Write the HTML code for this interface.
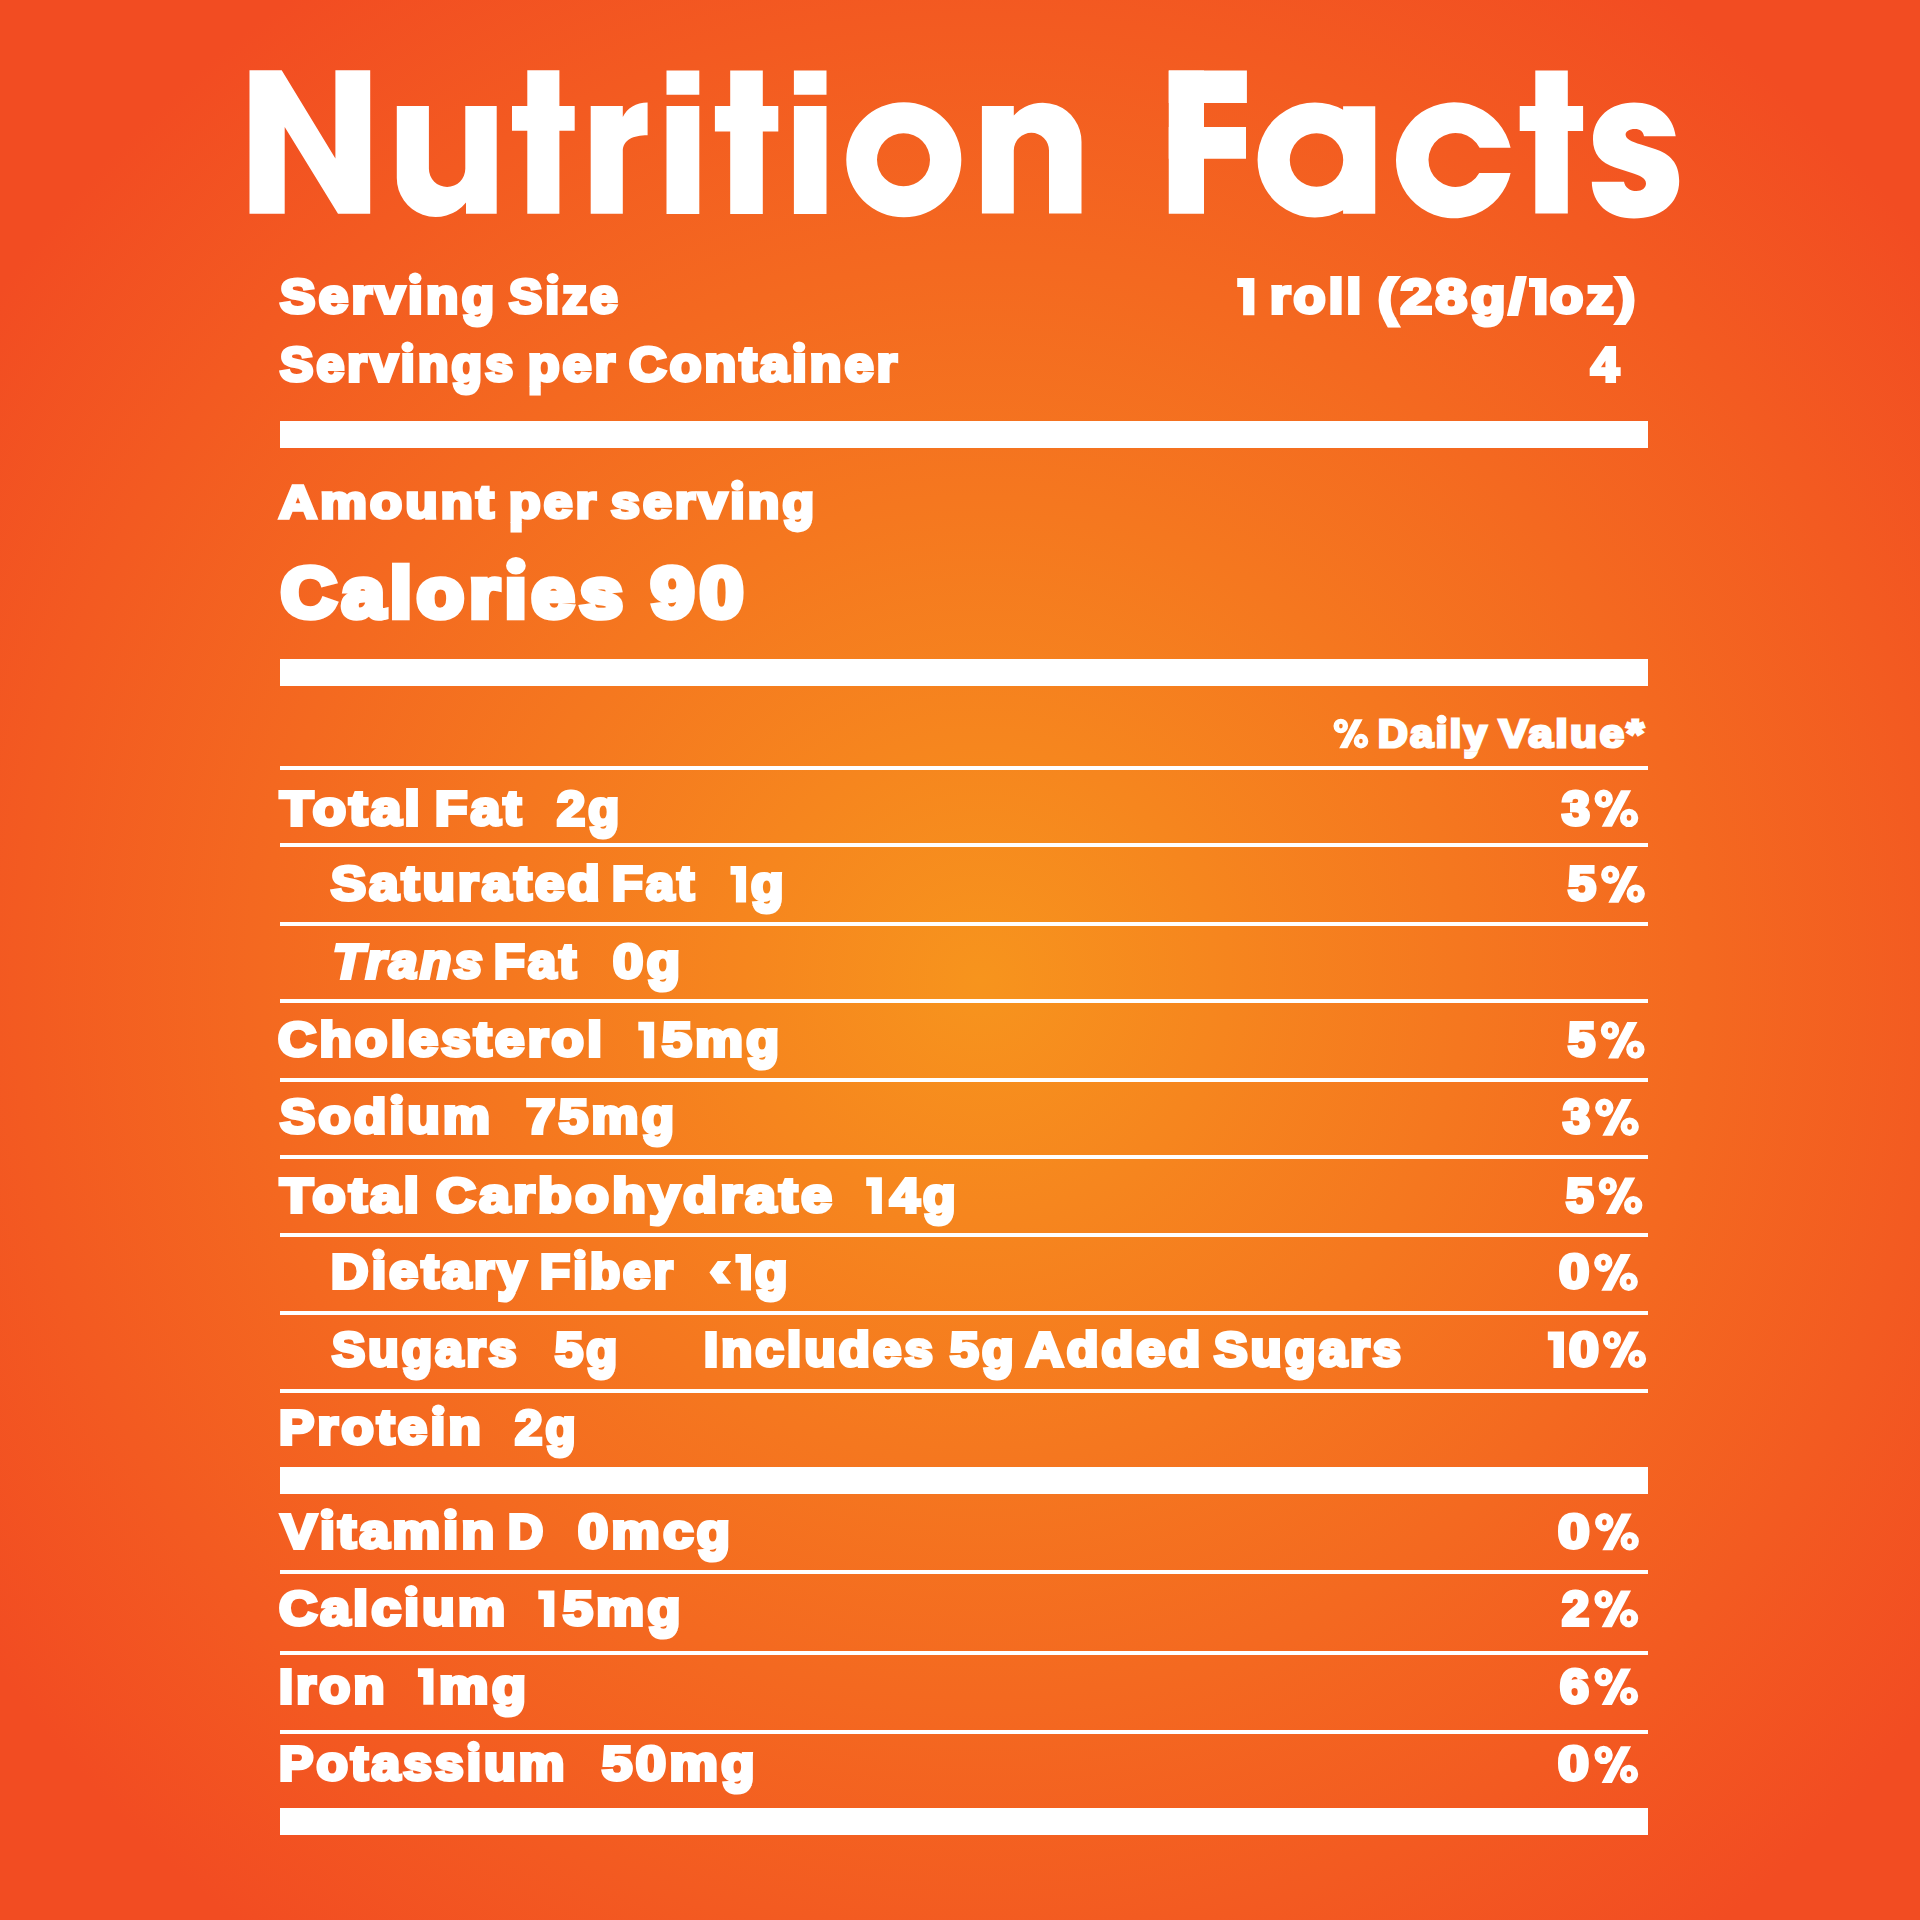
<!DOCTYPE html>
<html><head><meta charset="utf-8"><title>Nutrition Facts</title><style>
html,body{margin:0;padding:0;width:1920px;height:1920px;overflow:hidden}
body{position:relative;background:radial-gradient(circle at 980px 980px,#f7941d 0,#f24c22 1200px);}
.r{position:absolute;background:#fff}
.ttl{position:absolute;left:0;top:0;z-index:2}
.t,.i{position:absolute;white-space:pre;color:#fff;-webkit-text-stroke-color:#fff;font-family:"Liberation Sans",sans-serif;font-weight:700;line-height:1;transform-origin:0 0}
.i{font-style:italic}
.h{color:transparent;-webkit-text-stroke-color:transparent}</style></head><body>
<svg class="ttl" width="1920" height="1920" viewBox="0 0 1920 1920" fill="#fff" fill-rule="evenodd"><path d="M249.5,70.3H281.7L335.4,158.5V70.3H370.2V213.8H338L284.7,127V213.8H249.5Z"/><path d="M396.8,106H428.9V168.8A18.2,18.2 0 0 0 465.3,168.8V106H496.7V213.7H466V202.4A38.9,38.9 0 0 1 396.8,178Z"/><path d="M527.3,70.3H559.4V213.7H527.3Z"/><path d="M512,106H574.7V130.8H512Z"/><path d="M590.7,213.7V106H622.8V117C627,108 636,102.4 647.6,102.4V135.2C633,135.2 622.8,140 622.8,151V213.7Z"/><path d="M666.5,70.6H699.3V94.7H666.5Z"/><path d="M666.5,106H699.3V214H666.5Z"/><path d="M730.2,70.6H762.8V214H730.2Z"/><path d="M714.9,106.1H778.3V131.4H714.9Z"/><path d="M793.9,70.6H826.5V94.7H793.9Z"/><path d="M793.9,106H826.5V214H793.9Z"/><path d="M903.8,102.25A57.5,57.5 0 1 0 903.8,217.25A57.5,57.5 0 1 0 903.8,102.25ZM903.5,133.3A26.5,26.5 0 1 0 903.5,186.3A26.5,26.5 0 1 0 903.5,133.3Z"/><path d="M981.9,213.5V106H1013.8V115.5A38.9,38.9 0 0 1 1081.5,141.7V213.5H1049V150.4A17.6,17.6 0 0 0 1013.8,150.4V213.5Z"/><path d="M1168.75,70.6H1204V213.75H1168.75Z"/><path d="M1168.75,70.6H1246.9V103.1H1168.75Z"/><path d="M1168.75,126.9H1246V158.75H1168.75Z"/><path d="M1343.1,109.8A57.5,57.5 0 1 0 1343.1,210.2V213.75H1375.25V106.25H1343.1ZM1316.5,133.3A26.7,26.7 0 1 0 1316.5,186.7A26.7,26.7 0 1 0 1316.5,133.3Z"/><path d="M1510.6,147.8A58,58 0 1 0 1510.6,172.9L1479.2,172.9A27,27 0 1 1 1479.6,147.8Z"/><path d="M1535.3,70.5H1567.8V213.4H1535.3Z"/><path d="M1519.7,106H1583.1V131H1519.7Z"/><path d="M1634,102.4C1656,102.4 1673,115 1675.7,136.3L1644,136.3C1643,131 1640,129 1635,129C1629,129 1625.6,131.5 1625.6,134.5C1625.6,139 1631,141.5 1641,144.5L1655,149C1670,154 1679.2,163 1679.2,181C1679.2,204 1660,218.5 1634,218.5C1608,218.5 1592,203 1591.8,181.7L1624,181.7C1625,187.5 1630,191 1636.5,191C1642,191 1646,188 1646,183.5C1646,178 1640,175.5 1632,173L1615,167.5C1601,163 1593,154 1593,139.5C1593,117 1611,102.4 1634,102.4Z"/><path transform="translate(1333.40,718.67) scale(0.7955)" d="M9.3,0.0A9.2,9.2 0 1 0 9.3,18.4A9.2,9.2 0 1 0 9.3,0.0ZM9.4,6.300000000000001A2.3,3.0 0 1 0 9.4,12.3A2.3,3.0 0 1 0 9.4,6.300000000000001ZM26.5,0.6H36.8L17.6,37.2H7.3ZM34.7,19.1A9.2,9.2 0 1 0 34.7,37.5A9.2,9.2 0 1 0 34.7,19.1ZM34.6,25.2A2.3,3.0 0 1 0 34.6,31.2A2.3,3.0 0 1 0 34.6,25.2Z"/><path transform="translate(1594.40,789.60) scale(1.0000)" d="M9.3,0.0A9.2,9.2 0 1 0 9.3,18.4A9.2,9.2 0 1 0 9.3,0.0ZM9.4,6.300000000000001A2.3,3.0 0 1 0 9.4,12.3A2.3,3.0 0 1 0 9.4,6.300000000000001ZM26.5,0.6H36.8L17.6,37.2H7.3ZM34.7,19.1A9.2,9.2 0 1 0 34.7,37.5A9.2,9.2 0 1 0 34.7,19.1ZM34.6,25.2A2.3,3.0 0 1 0 34.6,31.2A2.3,3.0 0 1 0 34.6,25.2Z"/><path transform="translate(1601.00,865.50) scale(1.0000)" d="M9.3,0.0A9.2,9.2 0 1 0 9.3,18.4A9.2,9.2 0 1 0 9.3,0.0ZM9.4,6.300000000000001A2.3,3.0 0 1 0 9.4,12.3A2.3,3.0 0 1 0 9.4,6.300000000000001ZM26.5,0.6H36.8L17.6,37.2H7.3ZM34.7,19.1A9.2,9.2 0 1 0 34.7,37.5A9.2,9.2 0 1 0 34.7,19.1ZM34.6,25.2A2.3,3.0 0 1 0 34.6,31.2A2.3,3.0 0 1 0 34.6,25.2Z"/><path transform="translate(1600.70,1021.30) scale(1.0000)" d="M9.3,0.0A9.2,9.2 0 1 0 9.3,18.4A9.2,9.2 0 1 0 9.3,0.0ZM9.4,6.300000000000001A2.3,3.0 0 1 0 9.4,12.3A2.3,3.0 0 1 0 9.4,6.300000000000001ZM26.5,0.6H36.8L17.6,37.2H7.3ZM34.7,19.1A9.2,9.2 0 1 0 34.7,37.5A9.2,9.2 0 1 0 34.7,19.1ZM34.6,25.2A2.3,3.0 0 1 0 34.6,31.2A2.3,3.0 0 1 0 34.6,25.2Z"/><path transform="translate(1595.00,1098.50) scale(1.0000)" d="M9.3,0.0A9.2,9.2 0 1 0 9.3,18.4A9.2,9.2 0 1 0 9.3,0.0ZM9.4,6.300000000000001A2.3,3.0 0 1 0 9.4,12.3A2.3,3.0 0 1 0 9.4,6.300000000000001ZM26.5,0.6H36.8L17.6,37.2H7.3ZM34.7,19.1A9.2,9.2 0 1 0 34.7,37.5A9.2,9.2 0 1 0 34.7,19.1ZM34.6,25.2A2.3,3.0 0 1 0 34.6,31.2A2.3,3.0 0 1 0 34.6,25.2Z"/><path transform="translate(1598.50,1176.90) scale(1.0000)" d="M9.3,0.0A9.2,9.2 0 1 0 9.3,18.4A9.2,9.2 0 1 0 9.3,0.0ZM9.4,6.300000000000001A2.3,3.0 0 1 0 9.4,12.3A2.3,3.0 0 1 0 9.4,6.300000000000001ZM26.5,0.6H36.8L17.6,37.2H7.3ZM34.7,19.1A9.2,9.2 0 1 0 34.7,37.5A9.2,9.2 0 1 0 34.7,19.1ZM34.6,25.2A2.3,3.0 0 1 0 34.6,31.2A2.3,3.0 0 1 0 34.6,25.2Z"/><path transform="translate(1594.00,1253.50) scale(1.0000)" d="M9.3,0.0A9.2,9.2 0 1 0 9.3,18.4A9.2,9.2 0 1 0 9.3,0.0ZM9.4,6.300000000000001A2.3,3.0 0 1 0 9.4,12.3A2.3,3.0 0 1 0 9.4,6.300000000000001ZM26.5,0.6H36.8L17.6,37.2H7.3ZM34.7,19.1A9.2,9.2 0 1 0 34.7,37.5A9.2,9.2 0 1 0 34.7,19.1ZM34.6,25.2A2.3,3.0 0 1 0 34.6,31.2A2.3,3.0 0 1 0 34.6,25.2Z"/><path transform="translate(1602.80,1331.00) scale(0.9875)" d="M9.3,0.0A9.2,9.2 0 1 0 9.3,18.4A9.2,9.2 0 1 0 9.3,0.0ZM9.4,6.300000000000001A2.3,3.0 0 1 0 9.4,12.3A2.3,3.0 0 1 0 9.4,6.300000000000001ZM26.5,0.6H36.8L17.6,37.2H7.3ZM34.7,19.1A9.2,9.2 0 1 0 34.7,37.5A9.2,9.2 0 1 0 34.7,19.1ZM34.6,25.2A2.3,3.0 0 1 0 34.6,31.2A2.3,3.0 0 1 0 34.6,25.2Z"/><path transform="translate(1595.00,1513.00) scale(1.0000)" d="M9.3,0.0A9.2,9.2 0 1 0 9.3,18.4A9.2,9.2 0 1 0 9.3,0.0ZM9.4,6.300000000000001A2.3,3.0 0 1 0 9.4,12.3A2.3,3.0 0 1 0 9.4,6.300000000000001ZM26.5,0.6H36.8L17.6,37.2H7.3ZM34.7,19.1A9.2,9.2 0 1 0 34.7,37.5A9.2,9.2 0 1 0 34.7,19.1ZM34.6,25.2A2.3,3.0 0 1 0 34.6,31.2A2.3,3.0 0 1 0 34.6,25.2Z"/><path transform="translate(1594.30,1590.00) scale(1.0000)" d="M9.3,0.0A9.2,9.2 0 1 0 9.3,18.4A9.2,9.2 0 1 0 9.3,0.0ZM9.4,6.300000000000001A2.3,3.0 0 1 0 9.4,12.3A2.3,3.0 0 1 0 9.4,6.300000000000001ZM26.5,0.6H36.8L17.6,37.2H7.3ZM34.7,19.1A9.2,9.2 0 1 0 34.7,37.5A9.2,9.2 0 1 0 34.7,19.1ZM34.6,25.2A2.3,3.0 0 1 0 34.6,31.2A2.3,3.0 0 1 0 34.6,25.2Z"/><path transform="translate(1594.30,1667.80) scale(1.0000)" d="M9.3,0.0A9.2,9.2 0 1 0 9.3,18.4A9.2,9.2 0 1 0 9.3,0.0ZM9.4,6.300000000000001A2.3,3.0 0 1 0 9.4,12.3A2.3,3.0 0 1 0 9.4,6.300000000000001ZM26.5,0.6H36.8L17.6,37.2H7.3ZM34.7,19.1A9.2,9.2 0 1 0 34.7,37.5A9.2,9.2 0 1 0 34.7,19.1ZM34.6,25.2A2.3,3.0 0 1 0 34.6,31.2A2.3,3.0 0 1 0 34.6,25.2Z"/><path transform="translate(1594.30,1745.70) scale(1.0000)" d="M9.3,0.0A9.2,9.2 0 1 0 9.3,18.4A9.2,9.2 0 1 0 9.3,0.0ZM9.4,6.300000000000001A2.3,3.0 0 1 0 9.4,12.3A2.3,3.0 0 1 0 9.4,6.300000000000001ZM26.5,0.6H36.8L17.6,37.2H7.3ZM34.7,19.1A9.2,9.2 0 1 0 34.7,37.5A9.2,9.2 0 1 0 34.7,19.1ZM34.6,25.2A2.3,3.0 0 1 0 34.6,31.2A2.3,3.0 0 1 0 34.6,25.2Z"/><ellipse cx="415.12" cy="278.30" rx="6.38" ry="5.69"/><ellipse cx="552.60" cy="278.30" rx="5.98" ry="5.34"/><ellipse cx="407.50" cy="347.00" rx="6.06" ry="5.41"/><ellipse cx="799.01" cy="347.00" rx="6.29" ry="5.61"/><ellipse cx="737.27" cy="485.10" rx="6.25" ry="5.58"/><ellipse cx="515.92" cy="565.80" rx="9.86" ry="8.80"/><ellipse cx="1441.60" cy="719.30" rx="4.98" ry="4.44"/><ellipse cx="396.75" cy="1099.20" rx="6.40" ry="5.71"/><ellipse cx="378.42" cy="1254.20" rx="6.28" ry="5.61"/><ellipse cx="579.88" cy="1254.20" rx="5.96" ry="5.33"/><ellipse cx="438.29" cy="1410.20" rx="6.40" ry="5.71"/><ellipse cx="327.01" cy="1513.70" rx="6.48" ry="5.78"/><ellipse cx="450.38" cy="1513.70" rx="6.48" ry="5.78"/><ellipse cx="411.20" cy="1590.70" rx="6.42" ry="5.73"/><ellipse cx="473.54" cy="1746.40" rx="6.22" ry="5.56"/><path d="M1237.20,278.00H1254.40V315.30H1243.13V286.95H1237.20Z"/><path d="M1529.00,278.00H1546.50V315.30H1535.04V286.95H1529.00Z"/><path d="M730.50,865.90H746.10V902.50H735.88V874.68H730.50Z"/><path d="M638.30,1021.70H654.20V1058.30H643.79V1030.48H638.30Z"/><path d="M866.20,1177.30H881.90V1213.90H871.62V1186.08H866.20Z"/><path d="M717.70,1261.10L731.25,1261.10L722.40,1272.45L731.25,1283.80L717.70,1283.80L709.40,1272.45Z"/><path d="M735.40,1253.90H751.00V1290.50H740.78V1262.68H735.40Z"/><path d="M1547.80,1331.40H1564.00V1368.00H1553.39V1340.18H1547.80Z"/><path d="M538.30,1590.40H554.40V1627.00H543.85V1599.18H538.30Z"/><path d="M417.90,1668.20H433.50V1704.80H423.28V1676.98H417.90Z"/></svg>
<div class="r" style="left:280px;top:420.5px;width:1367.50px;height:27.50px"></div>
<div class="r" style="left:280px;top:659px;width:1367.50px;height:27.00px"></div>
<div class="r" style="left:280px;top:766.1px;width:1367.50px;height:4.40px"></div>
<div class="r" style="left:280px;top:842.8px;width:1367.50px;height:4.30px"></div>
<div class="r" style="left:280px;top:921.5px;width:1367.50px;height:4.30px"></div>
<div class="r" style="left:280px;top:998.9px;width:1367.50px;height:4.40px"></div>
<div class="r" style="left:280px;top:1077.5px;width:1367.50px;height:4.30px"></div>
<div class="r" style="left:280px;top:1155px;width:1367.50px;height:4.20px"></div>
<div class="r" style="left:280px;top:1233px;width:1367.50px;height:4.20px"></div>
<div class="r" style="left:280px;top:1311px;width:1367.50px;height:4.20px"></div>
<div class="r" style="left:280px;top:1388.7px;width:1367.50px;height:4.30px"></div>
<div class="r" style="left:280px;top:1467.2px;width:1367.50px;height:27.30px"></div>
<div class="r" style="left:280px;top:1570px;width:1367.50px;height:4.30px"></div>
<div class="r" style="left:280px;top:1651px;width:1367.50px;height:4.20px"></div>
<div class="r" style="left:280px;top:1729.5px;width:1367.50px;height:4.40px"></div>
<div class="r" style="left:280px;top:1808px;width:1367.50px;height:27.00px"></div>
<div id="w0" class="t" style="left:279.68px;top:272.46px;font-size:48.69px;-webkit-text-stroke-width:3.80px;letter-spacing:3.04px;transform:scaleX(1.0877);clip-path:polygon(-60px -200px,3000px -200px,3000px 46.24px,-60px 46.24px)">Servıng</div>
<div class="t" style="left:279.68px;top:272.46px;font-size:48.69px;-webkit-text-stroke-width:3.80px;letter-spacing:3.04px;transform-origin:0 42.84px;transform:scaleX(1.0877) scaleY(1.350);clip-path:polygon(-60px 44.84px,3000px 44.84px,3000px 400px,-60px 400px)">Servıng</div>
<div id="w1" class="t" style="left:509.46px;top:272.46px;font-size:48.69px;-webkit-text-stroke-width:3.80px;letter-spacing:3.04px;transform:scaleX(1.0201)">Sıze</div>
<div id="w2" class="t" style="left:1270.44px;top:272.46px;font-size:48.69px;-webkit-text-stroke-width:3.80px;letter-spacing:3.04px;transform:scaleX(1.0738)">roll</div>
<div id="w3" class="t" style="left:1377.82px;top:272.46px;font-size:48.69px;-webkit-text-stroke-width:3.80px;letter-spacing:3.04px;transform:scaleX(1.1659);clip-path:polygon(-60px -200px,3000px -200px,3000px 46.24px,-60px 46.24px)">(28g/</div>
<div class="t" style="left:1377.82px;top:272.46px;font-size:48.69px;-webkit-text-stroke-width:3.80px;letter-spacing:3.04px;transform-origin:0 42.84px;transform:scaleX(1.1659) scaleY(1.350);clip-path:polygon(-60px 44.84px,3000px 44.84px,3000px 400px,-60px 400px)">(28g/</div>
<div id="w4" class="t" style="left:1550.38px;top:272.46px;font-size:48.69px;-webkit-text-stroke-width:3.80px;letter-spacing:3.04px;transform:scaleX(1.1145)">oz)</div>
<div id="w5" class="t" style="left:279.68px;top:340.94px;font-size:47.53px;-webkit-text-stroke-width:3.80px;letter-spacing:3.04px;transform:scaleX(1.0493);clip-path:polygon(-60px -200px,3000px -200px,3000px 45.66px,-60px 45.66px)">Servıngs</div>
<div class="t" style="left:279.68px;top:340.94px;font-size:47.53px;-webkit-text-stroke-width:3.80px;letter-spacing:3.04px;transform-origin:0 42.26px;transform:scaleX(1.0493) scaleY(1.350);clip-path:polygon(-60px 44.26px,3000px 44.26px,3000px 400px,-60px 400px)">Servıngs</div>
<div id="w6" class="t" style="left:527.89px;top:340.94px;font-size:47.53px;-webkit-text-stroke-width:3.80px;letter-spacing:3.04px;transform:scaleX(1.0831);clip-path:polygon(-60px -200px,3000px -200px,3000px 45.66px,-60px 45.66px)">per</div>
<div class="t" style="left:527.89px;top:340.94px;font-size:47.53px;-webkit-text-stroke-width:3.80px;letter-spacing:3.04px;transform-origin:0 42.26px;transform:scaleX(1.0831) scaleY(1.350);clip-path:polygon(-60px 44.26px,3000px 44.26px,3000px 400px,-60px 400px)">per</div>
<div id="w7" class="t" style="left:628.66px;top:340.94px;font-size:47.53px;-webkit-text-stroke-width:3.80px;letter-spacing:3.04px;transform:scaleX(1.0890)">Contaıner</div>
<div id="w8" class="t" style="left:1590.51px;top:340.94px;font-size:47.53px;-webkit-text-stroke-width:3.80px;letter-spacing:3.04px;transform:scaleX(1.0560)">4</div>
<div id="w9" class="t" style="left:279.31px;top:480.10px;font-size:45.49px;-webkit-text-stroke-width:3.60px;letter-spacing:2.88px;transform:scaleX(1.1526)">Amount</div>
<div id="w10" class="t" style="left:509.48px;top:480.10px;font-size:45.49px;-webkit-text-stroke-width:3.60px;letter-spacing:2.88px;transform:scaleX(1.1334);clip-path:polygon(-60px -200px,3000px -200px,3000px 43.00px,-60px 43.00px)">per</div>
<div class="t" style="left:509.48px;top:480.10px;font-size:45.49px;-webkit-text-stroke-width:3.60px;letter-spacing:2.88px;transform-origin:0 39.60px;transform:scaleX(1.1334) scaleY(1.350);clip-path:polygon(-60px 41.60px,3000px 41.60px,3000px 400px,-60px 400px)">per</div>
<div id="w11" class="t" style="left:610.85px;top:480.10px;font-size:45.49px;-webkit-text-stroke-width:3.60px;letter-spacing:2.88px;transform:scaleX(1.1343);clip-path:polygon(-60px -200px,3000px -200px,3000px 43.00px,-60px 43.00px)">servıng</div>
<div class="t" style="left:610.85px;top:480.10px;font-size:45.49px;-webkit-text-stroke-width:3.60px;letter-spacing:2.88px;transform-origin:0 39.60px;transform:scaleX(1.1343) scaleY(1.350);clip-path:polygon(-60px 41.60px,3000px 41.60px,3000px 400px,-60px 400px)">servıng</div>
<div id="w12" class="t" style="left:281.35px;top:558.54px;font-size:69.77px;-webkit-text-stroke-width:6.50px;letter-spacing:5.20px;transform:scaleX(1.0961)">Calorıes</div>
<div id="w13" class="t" style="left:650.64px;top:558.54px;font-size:69.77px;-webkit-text-stroke-width:6.50px;letter-spacing:5.20px;transform:scaleX(1.1114)">90</div>
<div id="w14" class="t" style="left:1378.11px;top:715.58px;font-size:37.94px;-webkit-text-stroke-width:3.00px;letter-spacing:2.40px;transform:scaleX(1.0843);clip-path:polygon(-60px -200px,3000px -200px,3000px 35.92px,-60px 35.92px)">Daıly</div>
<div class="t" style="left:1378.11px;top:715.58px;font-size:37.94px;-webkit-text-stroke-width:3.00px;letter-spacing:2.40px;transform-origin:0 32.52px;transform:scaleX(1.0843) scaleY(1.350);clip-path:polygon(-60px 34.52px,3000px 34.52px,3000px 400px,-60px 400px)">Daıly</div>
<div id="w15" class="t" style="left:1498.92px;top:715.58px;font-size:37.94px;-webkit-text-stroke-width:3.00px;letter-spacing:2.40px;transform:scaleX(1.1492)">Value*</div>
<div id="w16" class="t" style="left:280.23px;top:784.82px;font-size:47.67px;-webkit-text-stroke-width:3.80px;letter-spacing:3.04px;transform:scaleX(1.1407)">Total</div>
<div id="w17" class="t" style="left:435.20px;top:784.82px;font-size:47.67px;-webkit-text-stroke-width:3.80px;letter-spacing:3.04px;transform:scaleX(1.1107)">Fat</div>
<div id="w18" class="t" style="left:556.56px;top:784.82px;font-size:47.67px;-webkit-text-stroke-width:3.80px;letter-spacing:3.04px;transform:scaleX(1.0590);clip-path:polygon(-60px -200px,3000px -200px,3000px 45.18px,-60px 45.18px)">2g</div>
<div class="t" style="left:556.56px;top:784.82px;font-size:47.67px;-webkit-text-stroke-width:3.80px;letter-spacing:3.04px;transform-origin:0 41.78px;transform:scaleX(1.0590) scaleY(1.350);clip-path:polygon(-60px 43.78px,3000px 43.78px,3000px 400px,-60px 400px)">2g</div>
<div id="w19" class="t" style="left:1561.84px;top:784.82px;font-size:47.67px;-webkit-text-stroke-width:3.80px;letter-spacing:3.04px;transform:scaleX(1.0498)">3</div>
<div id="w20" class="t" style="left:330.83px;top:860.32px;font-size:47.67px;-webkit-text-stroke-width:3.80px;letter-spacing:3.04px;transform:scaleX(1.1005)">Saturated</div>
<div id="w21" class="t" style="left:612.29px;top:860.32px;font-size:47.67px;-webkit-text-stroke-width:3.80px;letter-spacing:3.04px;transform:scaleX(1.0562)">Fat</div>
<div id="w22" class="t" style="left:750.68px;top:860.32px;font-size:47.67px;-webkit-text-stroke-width:3.80px;letter-spacing:3.04px;transform:scaleX(1.1139);clip-path:polygon(-60px -200px,3000px -200px,3000px 45.58px,-60px 45.58px)">g</div>
<div class="t" style="left:750.68px;top:860.32px;font-size:47.67px;-webkit-text-stroke-width:3.80px;letter-spacing:3.04px;transform-origin:0 42.18px;transform:scaleX(1.1139) scaleY(1.350);clip-path:polygon(-60px 44.18px,3000px 44.18px,3000px 400px,-60px 400px)">g</div>
<div id="w23" class="t" style="left:1568.09px;top:860.32px;font-size:47.67px;-webkit-text-stroke-width:3.80px;letter-spacing:3.04px;transform:scaleX(1.0528)">5</div>
<div id="w24" class="i" style="left:332.79px;top:937.82px;font-size:47.67px;-webkit-text-stroke-width:3.80px;letter-spacing:3.04px;transform:scaleX(1.0582)">Trans</div>
<div id="w25" class="t" style="left:494.29px;top:937.82px;font-size:47.67px;-webkit-text-stroke-width:3.80px;letter-spacing:3.04px;transform:scaleX(1.0562)">Fat</div>
<div id="w26" class="t" style="left:612.99px;top:937.82px;font-size:47.67px;-webkit-text-stroke-width:3.80px;letter-spacing:3.04px;transform:scaleX(1.1389);clip-path:polygon(-60px -200px,3000px -200px,3000px 45.58px,-60px 45.58px)">0g</div>
<div class="t" style="left:612.99px;top:937.82px;font-size:47.67px;-webkit-text-stroke-width:3.80px;letter-spacing:3.04px;transform-origin:0 42.18px;transform:scaleX(1.1389) scaleY(1.350);clip-path:polygon(-60px 44.18px,3000px 44.18px,3000px 400px,-60px 400px)">0g</div>
<div id="w27" class="t" style="left:278.38px;top:1016.32px;font-size:47.67px;-webkit-text-stroke-width:3.80px;letter-spacing:3.04px;transform:scaleX(1.1070)">Cholesterol</div>
<div id="w28" class="t" style="left:662.30px;top:1016.32px;font-size:47.67px;-webkit-text-stroke-width:3.80px;letter-spacing:3.04px;transform:scaleX(1.1226);clip-path:polygon(-60px -200px,3000px -200px,3000px 45.38px,-60px 45.38px)">5mg</div>
<div class="t" style="left:662.30px;top:1016.32px;font-size:47.67px;-webkit-text-stroke-width:3.80px;letter-spacing:3.04px;transform-origin:0 41.98px;transform:scaleX(1.1226) scaleY(1.350);clip-path:polygon(-60px 43.98px,3000px 43.98px,3000px 400px,-60px 400px)">5mg</div>
<div id="w29" class="t" style="left:1568.48px;top:1016.32px;font-size:47.67px;-webkit-text-stroke-width:3.80px;letter-spacing:3.04px;transform:scaleX(1.0253)">5</div>
<div id="w30" class="t" style="left:279.83px;top:1093.32px;font-size:47.67px;-webkit-text-stroke-width:3.80px;letter-spacing:3.04px;transform:scaleX(1.1054)">Sodıum</div>
<div id="w31" class="t" style="left:526.29px;top:1093.32px;font-size:47.67px;-webkit-text-stroke-width:3.80px;letter-spacing:3.04px;transform:scaleX(1.1065);clip-path:polygon(-60px -200px,3000px -200px,3000px 45.58px,-60px 45.58px)">75mg</div>
<div class="t" style="left:526.29px;top:1093.32px;font-size:47.67px;-webkit-text-stroke-width:3.80px;letter-spacing:3.04px;transform-origin:0 42.18px;transform:scaleX(1.1065) scaleY(1.350);clip-path:polygon(-60px 44.18px,3000px 44.18px,3000px 400px,-60px 400px)">75mg</div>
<div id="w32" class="t" style="left:1562.68px;top:1093.32px;font-size:47.67px;-webkit-text-stroke-width:3.80px;letter-spacing:3.04px;transform:scaleX(1.0211)">3</div>
<div id="w33" class="t" style="left:279.93px;top:1172.32px;font-size:47.67px;-webkit-text-stroke-width:3.80px;letter-spacing:3.04px;transform:scaleX(1.1340)">Total</div>
<div id="w34" class="t" style="left:435.62px;top:1172.32px;font-size:47.67px;-webkit-text-stroke-width:3.80px;letter-spacing:3.04px;transform:scaleX(1.1528);clip-path:polygon(-60px -200px,3000px -200px,3000px 44.98px,-60px 44.98px)">Carbohydrate</div>
<div class="t" style="left:435.62px;top:1172.32px;font-size:47.67px;-webkit-text-stroke-width:3.80px;letter-spacing:3.04px;transform-origin:0 41.58px;transform:scaleX(1.1528) scaleY(1.350);clip-path:polygon(-60px 43.58px,3000px 43.58px,3000px 400px,-60px 400px)">Carbohydrate</div>
<div id="w35" class="t" style="left:889.95px;top:1172.32px;font-size:47.67px;-webkit-text-stroke-width:3.80px;letter-spacing:3.04px;transform:scaleX(1.1169);clip-path:polygon(-60px -200px,3000px -200px,3000px 44.98px,-60px 44.98px)">4g</div>
<div class="t" style="left:889.95px;top:1172.32px;font-size:47.67px;-webkit-text-stroke-width:3.80px;letter-spacing:3.04px;transform-origin:0 41.58px;transform:scaleX(1.1169) scaleY(1.350);clip-path:polygon(-60px 43.58px,3000px 43.58px,3000px 400px,-60px 400px)">4g</div>
<div id="w36" class="t" style="left:1566.03px;top:1172.32px;font-size:47.67px;-webkit-text-stroke-width:3.80px;letter-spacing:3.04px;transform:scaleX(1.0383)">5</div>
<div id="w37" class="t" style="left:330.57px;top:1248.32px;font-size:47.67px;-webkit-text-stroke-width:3.80px;letter-spacing:3.04px;transform:scaleX(1.0852);clip-path:polygon(-60px -200px,3000px -200px,3000px 45.58px,-60px 45.58px)">Dıetary</div>
<div class="t" style="left:330.57px;top:1248.32px;font-size:47.67px;-webkit-text-stroke-width:3.80px;letter-spacing:3.04px;transform-origin:0 42.18px;transform:scaleX(1.0852) scaleY(1.350);clip-path:polygon(-60px 44.18px,3000px 44.18px,3000px 400px,-60px 400px)">Dıetary</div>
<div id="w38" class="t" style="left:539.90px;top:1248.32px;font-size:47.67px;-webkit-text-stroke-width:3.80px;letter-spacing:3.04px;transform:scaleX(1.0309)">Fıber</div>
<div id="w39" class="t" style="left:755.18px;top:1248.32px;font-size:47.67px;-webkit-text-stroke-width:3.80px;letter-spacing:3.04px;transform:scaleX(1.1139);clip-path:polygon(-60px -200px,3000px -200px,3000px 45.58px,-60px 45.58px)">g</div>
<div class="t" style="left:755.18px;top:1248.32px;font-size:47.67px;-webkit-text-stroke-width:3.80px;letter-spacing:3.04px;transform-origin:0 42.18px;transform:scaleX(1.1139) scaleY(1.350);clip-path:polygon(-60px 44.18px,3000px 44.18px,3000px 400px,-60px 400px)">g</div>
<div id="w40" class="t" style="left:1558.99px;top:1248.32px;font-size:47.67px;-webkit-text-stroke-width:3.80px;letter-spacing:3.04px;transform:scaleX(1.1411)">0</div>
<div id="w41" class="t" style="left:331.66px;top:1325.82px;font-size:47.67px;-webkit-text-stroke-width:3.80px;letter-spacing:3.04px;transform:scaleX(1.0427);clip-path:polygon(-60px -200px,3000px -200px,3000px 45.58px,-60px 45.58px)">Sugars</div>
<div class="t" style="left:331.66px;top:1325.82px;font-size:47.67px;-webkit-text-stroke-width:3.80px;letter-spacing:3.04px;transform-origin:0 42.18px;transform:scaleX(1.0427) scaleY(1.350);clip-path:polygon(-60px 44.18px,3000px 44.18px,3000px 400px,-60px 400px)">Sugars</div>
<div id="w42" class="t" style="left:555.12px;top:1325.82px;font-size:47.67px;-webkit-text-stroke-width:3.80px;letter-spacing:3.04px;transform:scaleX(1.0601);clip-path:polygon(-60px -200px,3000px -200px,3000px 45.58px,-60px 45.58px)">5g</div>
<div class="t" style="left:555.12px;top:1325.82px;font-size:47.67px;-webkit-text-stroke-width:3.80px;letter-spacing:3.04px;transform-origin:0 42.18px;transform:scaleX(1.0601) scaleY(1.350);clip-path:polygon(-60px 44.18px,3000px 44.18px,3000px 400px,-60px 400px)">5g</div>
<div id="w43" class="t" style="left:703.69px;top:1325.82px;font-size:47.67px;-webkit-text-stroke-width:3.80px;letter-spacing:3.04px;transform:scaleX(1.0655)">Includes</div>
<div id="w44" class="t" style="left:949.66px;top:1325.82px;font-size:47.67px;-webkit-text-stroke-width:3.80px;letter-spacing:3.04px;transform:scaleX(1.0816);clip-path:polygon(-60px -200px,3000px -200px,3000px 45.58px,-60px 45.58px)">5g</div>
<div class="t" style="left:949.66px;top:1325.82px;font-size:47.67px;-webkit-text-stroke-width:3.80px;letter-spacing:3.04px;transform-origin:0 42.18px;transform:scaleX(1.0816) scaleY(1.350);clip-path:polygon(-60px 44.18px,3000px 44.18px,3000px 400px,-60px 400px)">5g</div>
<div id="w45" class="t" style="left:1026.23px;top:1325.82px;font-size:47.67px;-webkit-text-stroke-width:3.80px;letter-spacing:3.04px;transform:scaleX(1.0857)">Added</div>
<div id="w46" class="t" style="left:1213.69px;top:1325.82px;font-size:47.67px;-webkit-text-stroke-width:3.80px;letter-spacing:3.04px;transform:scaleX(1.0569);clip-path:polygon(-60px -200px,3000px -200px,3000px 45.58px,-60px 45.58px)">Sugars</div>
<div class="t" style="left:1213.69px;top:1325.82px;font-size:47.67px;-webkit-text-stroke-width:3.80px;letter-spacing:3.04px;transform-origin:0 42.18px;transform:scaleX(1.0569) scaleY(1.350);clip-path:polygon(-60px 44.18px,3000px 44.18px,3000px 400px,-60px 400px)">Sugars</div>
<div id="w47" class="t" style="left:1568.99px;top:1325.82px;font-size:47.67px;-webkit-text-stroke-width:3.80px;letter-spacing:3.04px;transform:scaleX(1.1239)">0</div>
<div id="w48" class="t" style="left:279.43px;top:1404.32px;font-size:47.67px;-webkit-text-stroke-width:3.80px;letter-spacing:3.04px;transform:scaleX(1.1058)">Proteın</div>
<div id="w49" class="t" style="left:514.52px;top:1404.32px;font-size:47.67px;-webkit-text-stroke-width:3.80px;letter-spacing:3.04px;transform:scaleX(1.0297);clip-path:polygon(-60px -200px,3000px -200px,3000px 45.58px,-60px 45.58px)">2g</div>
<div class="t" style="left:514.52px;top:1404.32px;font-size:47.67px;-webkit-text-stroke-width:3.80px;letter-spacing:3.04px;transform-origin:0 42.18px;transform:scaleX(1.0297) scaleY(1.350);clip-path:polygon(-60px 44.18px,3000px 44.18px,3000px 400px,-60px 400px)">2g</div>
<div id="w50" class="t" style="left:280.59px;top:1507.82px;font-size:47.67px;-webkit-text-stroke-width:3.80px;letter-spacing:3.04px;transform:scaleX(1.1199)">Vıtamın</div>
<div id="w51" class="t" style="left:508.11px;top:1507.82px;font-size:47.67px;-webkit-text-stroke-width:3.80px;letter-spacing:3.04px;transform:scaleX(1.0203)">D</div>
<div id="w52" class="t" style="left:577.99px;top:1507.82px;font-size:47.67px;-webkit-text-stroke-width:3.80px;letter-spacing:3.04px;transform:scaleX(1.1365);clip-path:polygon(-60px -200px,3000px -200px,3000px 45.58px,-60px 45.58px)">0mcg</div>
<div class="t" style="left:577.99px;top:1507.82px;font-size:47.67px;-webkit-text-stroke-width:3.80px;letter-spacing:3.04px;transform-origin:0 42.18px;transform:scaleX(1.1365) scaleY(1.350);clip-path:polygon(-60px 44.18px,3000px 44.18px,3000px 400px,-60px 400px)">0mcg</div>
<div id="w53" class="t" style="left:1558.49px;top:1507.82px;font-size:47.67px;-webkit-text-stroke-width:3.80px;letter-spacing:3.04px;transform:scaleX(1.1901)">0</div>
<div id="w54" class="t" style="left:278.62px;top:1584.82px;font-size:47.67px;-webkit-text-stroke-width:3.80px;letter-spacing:3.04px;transform:scaleX(1.1099)">Calcıum</div>
<div id="w55" class="t" style="left:562.80px;top:1584.82px;font-size:47.67px;-webkit-text-stroke-width:3.80px;letter-spacing:3.04px;transform:scaleX(1.1264);clip-path:polygon(-60px -200px,3000px -200px,3000px 45.58px,-60px 45.58px)">5mg</div>
<div class="t" style="left:562.80px;top:1584.82px;font-size:47.67px;-webkit-text-stroke-width:3.80px;letter-spacing:3.04px;transform-origin:0 42.18px;transform:scaleX(1.1264) scaleY(1.350);clip-path:polygon(-60px 44.18px,3000px 44.18px,3000px 400px,-60px 400px)">5mg</div>
<div id="w56" class="t" style="left:1562.49px;top:1584.82px;font-size:47.67px;-webkit-text-stroke-width:3.80px;letter-spacing:3.04px;transform:scaleX(1.0239)">2</div>
<div id="w57" class="t" style="left:278.72px;top:1662.82px;font-size:47.67px;-webkit-text-stroke-width:3.80px;letter-spacing:3.04px;transform:scaleX(1.0628)">Iron</div>
<div id="w58" class="t" style="left:438.88px;top:1662.82px;font-size:47.67px;-webkit-text-stroke-width:3.80px;letter-spacing:3.04px;transform:scaleX(1.1656);clip-path:polygon(-60px -200px,3000px -200px,3000px 45.38px,-60px 45.38px)">mg</div>
<div class="t" style="left:438.88px;top:1662.82px;font-size:47.67px;-webkit-text-stroke-width:3.80px;letter-spacing:3.04px;transform-origin:0 41.98px;transform:scaleX(1.1656) scaleY(1.350);clip-path:polygon(-60px 43.98px,3000px 43.98px,3000px 400px,-60px 400px)">mg</div>
<div id="w59" class="t" style="left:1560.41px;top:1662.82px;font-size:47.67px;-webkit-text-stroke-width:3.80px;letter-spacing:3.04px;transform:scaleX(1.0873)">6</div>
<div id="w60" class="t" style="left:278.63px;top:1740.32px;font-size:47.67px;-webkit-text-stroke-width:3.80px;letter-spacing:3.04px;transform:scaleX(1.0759)">Potassıum</div>
<div id="w61" class="t" style="left:601.83px;top:1740.32px;font-size:47.67px;-webkit-text-stroke-width:3.80px;letter-spacing:3.04px;transform:scaleX(1.1411);clip-path:polygon(-60px -200px,3000px -200px,3000px 45.78px,-60px 45.78px)">50mg</div>
<div class="t" style="left:601.83px;top:1740.32px;font-size:47.67px;-webkit-text-stroke-width:3.80px;letter-spacing:3.04px;transform-origin:0 42.38px;transform:scaleX(1.1411) scaleY(1.350);clip-path:polygon(-60px 44.38px,3000px 44.38px,3000px 400px,-60px 400px)">50mg</div>
<div id="w62" class="t" style="left:1558.49px;top:1740.32px;font-size:47.67px;-webkit-text-stroke-width:3.80px;letter-spacing:3.04px;transform:scaleX(1.1641)">0</div>
</body></html>
